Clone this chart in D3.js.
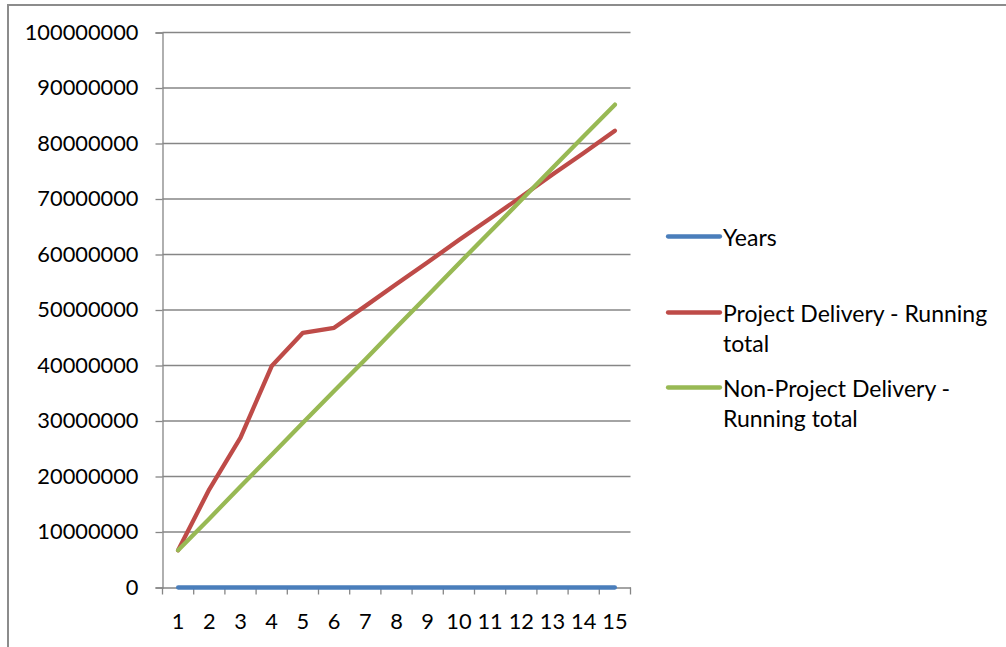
<!DOCTYPE html>
<html>
<head>
<meta charset="utf-8">
<script src="https://cdn.jsdelivr.net/npm/d3@7/dist/d3.min.js"></script>
<style>
  html, body { margin: 0; padding: 0; background: #fff; }
  svg { display: block; }
  text { font-family: Lato, "Open Sans", sans-serif; fill: #000; }
</style>
</head>
<body>
<svg id="chart" width="1006" height="647"></svg>
<script>
// ---- data ----
const categories = [1, 2, 3, 4, 5, 6, 7, 8, 9, 10, 11, 12, 13, 14, 15];
const years = [1, 2, 3, 4, 5, 6, 7, 8, 9, 10, 11, 12, 13, 14, 15];
const projectDelivery = [6700000, 17700000, 27000000, 39900000, 45900000, 46800000,
  50700000, 54700000, 58600000, 62600000, 66500000, 70400000, 74400000, 78300000, 82300000];
const nonProjectDelivery = [6700000, 12400000, 18200000, 23900000, 29700000, 35400000,
  41100000, 46900000, 52600000, 58400000, 64100000, 69800000, 75600000, 81300000, 87000000];
const yTicks = [0, 10000000, 20000000, 30000000, 40000000, 50000000, 60000000,
  70000000, 80000000, 90000000, 100000000];
const seriesNames = ["Years", "Project Delivery - Running total", "Non-Project Delivery - Running total"];
const legendLines = [["Years"], ["Project Delivery - Running", "total"], ["Non-Project Delivery -", "Running total"]];
const seriesColors = ["#4a7ebb", "#be4b48", "#98b954"];

const series = [years, projectDelivery, nonProjectDelivery];

const svg = d3.select("#chart");
const plot = { left: 162.5, right: 630.5, top: 32.5, bottom: 587.5 };
const AXIS_FONT = 21.8;
const LEGEND_FONT = 23;

// outer border (extends past the right and bottom edges)
svg.append("rect")
  .attr("x", 8).attr("y", 5)
  .attr("width", 1100).attr("height", 700)
  .attr("fill", "none").attr("stroke", "#8c8c8c").attr("stroke-width", 2);

const x = d3.scaleBand().domain(categories).range([plot.left, plot.right]).padding(0);
const y = d3.scaleLinear().domain([0, 100000000]).range([plot.bottom, plot.top]);

// horizontal gridlines
svg.append("g").selectAll("line").data(yTicks.filter(d => d > 0)).join("line")
  .attr("x1", plot.left).attr("x2", plot.right)
  .attr("y1", d => y(d)).attr("y2", d => y(d))
  .attr("stroke", "#868686").attr("stroke-width", 1.3);

// y axis
const yAxis = svg.append("g")
  .attr("transform", `translate(${plot.left},0)`)
  .call(d3.axisLeft(y).tickValues(yTicks).tickFormat(d3.format("d")).tickSize(7).tickPadding(17));
yAxis.select(".domain").attr("stroke", "#868686").attr("stroke-width", 1.3);
yAxis.selectAll(".tick line").attr("stroke", "#868686").attr("stroke-width", 1.3);
yAxis.selectAll(".tick text").attr("font-size", AXIS_FONT).attr("font-family", "Lato, sans-serif").attr("fill", "#000");

// x axis
const xTickPos = categories.map((c, i) => plot.left + i * x.bandwidth()).concat([plot.right]);
const xAxis = svg.append("g")
  .attr("transform", `translate(0,${plot.bottom})`)
  .call(d3.axisBottom(x).tickSize(0).tickPadding(26));
xAxis.select(".domain").attr("stroke", "#868686").attr("stroke-width", 1.3);
xAxis.selectAll(".tick text").attr("font-size", AXIS_FONT).attr("font-family", "Lato, sans-serif").attr("fill", "#000");
xAxis.append("g").selectAll("line").data(xTickPos).join("line")
  .attr("x1", d => d).attr("x2", d => d).attr("y1", 0).attr("y2", 7)
  .attr("stroke", "#868686").attr("stroke-width", 1.3);

// lines
const line = d3.line()
  .x((d, i) => x(categories[i]) + x.bandwidth() / 2)
  .y(d => y(d));
svg.append("g").selectAll("path").data(series).join("path")
  .attr("d", d => line(d))
  .attr("fill", "none")
  .attr("stroke", (d, i) => seriesColors[i])
  .attr("stroke-width", 4.3)
  .attr("stroke-linecap", "round")
  .attr("stroke-linejoin", "round");

// legend
const legendY = [236.5, 312.5, 387.5];
const lg = svg.append("g");
seriesNames.forEach((name, i) => {
  lg.append("line")
    .attr("x1", 668).attr("x2", 720)
    .attr("y1", legendY[i]).attr("y2", legendY[i])
    .attr("stroke", seriesColors[i]).attr("stroke-width", 4.3).attr("stroke-linecap", "round");
  const t = lg.append("text").attr("x", 723).attr("y", legendY[i]).attr("font-size", LEGEND_FONT)
    .attr("dominant-baseline", "central");
  legendLines[i].forEach((s, j) => {
    t.append("tspan").attr("x", 723).attr("dy", j === 0 ? 0 : 30).text(s);
  });
});
</script>
</body>
</html>
